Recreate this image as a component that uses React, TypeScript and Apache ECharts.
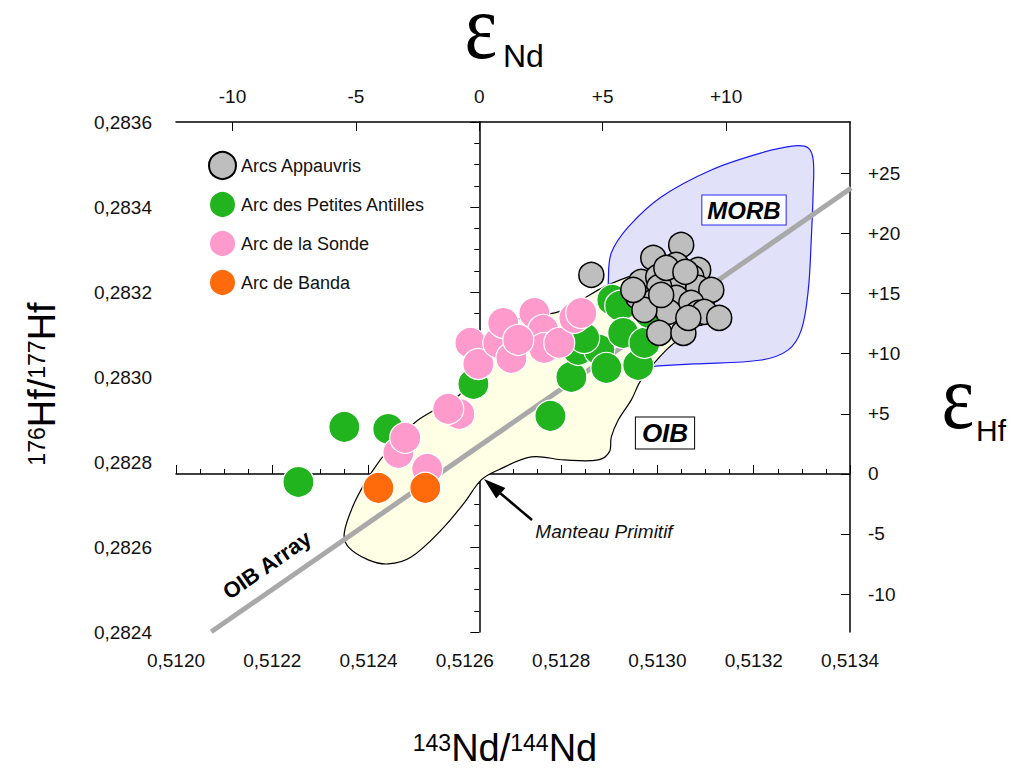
import React, { useEffect, useRef } from "react";
import * as echarts from "echarts";

// Chondritic reference values used by the figure
const CHUR_ND = 0.51263;
const CHUR_HF = 0.282772;

// Axis ranges (ratios)
const ND_MIN = 0.512;
const ND_MAX = 0.5134;
const ND_STEP = 0.0002;
const HF_MIN = 0.2824;
const HF_MAX = 0.2836;
const HF_STEP = 0.0002;

// epsilon tick values
const epsNdTicks = [-10, -5, 0, 5, 10];
const epsHfTicks = [-10, -5, 0, 5, 10, 15, 20, 25];

// Data (read as εNd / εHf values)
const appauvrisEpsNd = [4.54, 8.18, 7.05, 7.98, 8.87, 6.56, 7.25, 7.98, 8.59, 8.87, 9.4, 7.86, 7.29, 6.44, 7.05, 7.98, 8.59, 8.87, 9.12, 7.66, 6.69, 9.72, 7.29, 8.27, 8.47, 7.58, 8.35, 6.24, 7.37];
const appauvrisEpsHf = [16.56, 19.05, 17.97, 17.39, 16.97, 15.97, 16.39, 15.89, 16.39, 15.47, 15.31, 15.72, 15.56, 14.73, 14.31, 14.64, 14.23, 13.39, 13.48, 13.48, 13.64, 12.98, 11.73, 11.73, 12.98, 17.14, 16.81, 15.31, 14.89];

const antillesEpsNd = [-7.33, -5.47, -3.69, -0.24, 2.88, 3.73, 4.01, 4.86, 5.15, 5.39, 5.71, 5.83, 6.44, 6.69, 4.25, 6.89];
const antillesEpsHf = [-0.67, 3.91, 3.74, 7.49, 4.83, 8.07, 10.32, 10.32, 8.82, 14.48, 13.98, 11.73, 9.07, 10.9, 11.31, 13.39];

const sondeEpsNd = [-2.11, -3.28, -3.0, -0.81, -1.26, -0.36, -0.04, 0.77, 0.97, 1.3, 2.23, 2.59, 2.63, 3.24, 3.85, 4.13, 1.58];
const sondeEpsHf = [0.42, 1.75, 3.0, 4.99, 5.41, 10.9, 9.15, 10.9, 12.56, 9.65, 13.39, 11.98, 10.48, 10.9, 12.98, 13.39, 11.15];

const bandaEpsNd = [-4.09, -2.19];
const bandaEpsHf = [-1.16, -1.16];

// Fields outlines (εNd / εHf)
const morbEpsNd = [5.23, 5.35, 6.04, 7.37, 9.4, 11.43, 12.76, 13.33, 13.53, 13.53, 13.45, 13.33, 13.05, 12.52, 11.43, 8.71, 7.25, 5.96, 5.27];
const morbEpsHf = [16.14, 18.39, 20.55, 23.04, 25.29, 26.71, 27.29, 27.12, 26.12, 23.63, 19.47, 15.31, 11.98, 10.32, 9.48, 9.15, 8.99, 8.82, 14.81];

const oibEpsNd = [-5.47, -5.31, -4.5, -3.69, -2.76, -1.54, -0.61, 0.08, 0.77, 2.11, 3.44, 4.82, 5.27, 5.35, 5.63, 6.16, 6.56, 7.58, 8.59, 9.24, 9.6, 9.52, 9.0, 8.18, 6.97, 6.04, 5.06, 4.13, 3.2, 1.5, 0.49, -0.32, -0.81, -1.82, -2.63, -3.69, -4.38, -5.06];
const oibEpsHf = [-4.91, -6.07, -7.15, -7.49, -6.91, -4.66, -2.41, -0.5, 0.33, 1.41, 1.16, 1.16, 1.83, 3.08, 4.49, 6.16, 7.82, 10.32, 11.98, 13.23, 14.73, 15.56, 16.31, 16.81, 16.97, 16.39, 15.56, 14.48, 13.48, 12.81, 10.73, 8.24, 6.57, 5.32, 4.24, 2.0, 0.08, -2.41];

// OIB array line end points
const arrayEpsNd = [-10.86, 15.07];
const arrayEpsHf = [-13.14, 23.79];

const seriesNames = ["Arcs Appauvris", "Arc des Petites Antilles", "Arc de la Sonde", "Arc de Banda"];

const FONT = "'Liberation Sans Narrow', 'Liberation Sans', Arial, sans-serif";

const toNd = (e: number) => CHUR_ND * (1 + e / 1e4);
const toHf = (e: number) => CHUR_HF * (1 + e / 1e4);
const epsNd = (r: number) => (r / CHUR_ND - 1) * 1e4;
const epsHf = (r: number) => (r / CHUR_HF - 1) * 1e4;
const pts = (nd: number[], hf: number[]) => nd.map((e, i) => [toNd(e), toHf(hf[i])]);

const ratioFmt = (v: number) => v.toFixed(4).replace(".", ",");
const epsFmt = (v: number) => (v > 0 ? "+" + v : String(v));

function polygonSeries(name: string, data: number[][], fill: string, stroke: string, z: number) {
  return {
    type: "custom",
    name,
    z,
    silent: true,
    data,
    encode: { x: 0, y: 1 },
    renderItem: (params: any, api: any) => {
      if (params.dataIndex !== 0) return null;
      const points = data.map((p) => api.coord(p));
      return {
        type: "polygon",
        shape: { points, smooth: 0.35 },
        style: { fill, stroke, lineWidth: 1.2 },
      };
    },
  };
}

export default function App() {
  const ref = useRef<HTMLDivElement>(null);
  useEffect(() => {
    if (!ref.current) return;
    const chart = echarts.init(ref.current, null, { renderer: "svg" });
    const axisLine = { show: true, lineStyle: { color: "#000", width: 1.5 } };
    const labelStyle = { fontFamily: FONT, fontSize: 19, color: "#111" };
    const titleRich = {
      m: { fontFamily: FONT, fontSize: 38, lineHeight: 34 },
      s: { fontFamily: FONT, fontSize: 23, verticalAlign: "top" },
    };
    const option: any = {
      animation: false,
      backgroundColor: "#fff",
      grid: { left: 176, top: 122, width: 674, height: 510, containLabel: false },
      legend: {
        orient: "vertical",
        left: 208,
        top: 151,
        padding: 0,
        itemWidth: 27,
        itemHeight: 27,
        itemGap: 10,
        icon: "circle",
        data: seriesNames,
        textStyle: { fontFamily: FONT, fontSize: 18, color: "#111" },
      },
      xAxis: [
        {
          type: "value",
          position: "bottom",
          min: ND_MIN,
          max: ND_MAX,
          interval: ND_STEP,
          axisLine,
          axisTick: { inside: true, length: 9, lineStyle: { color: "#000", width: 1 } },
          minorTick: { show: true, splitNumber: 4, length: 5, lineStyle: { color: "#000", width: 1 } },
          axisLabel: { ...labelStyle, margin: 19, formatter: ratioFmt },
          splitLine: { show: false },
          minorSplitLine: { show: false },
        },
        {
          type: "value",
          position: "top",
          min: epsNd(ND_MIN),
          max: epsNd(ND_MAX),
          axisLine,
          axisTick: { inside: true, length: 9, customValues: epsNdTicks, lineStyle: { color: "#000", width: 1 } },
          axisLabel: { ...labelStyle, margin: 16, customValues: epsNdTicks, formatter: epsFmt },
          splitLine: { show: false },
        },
      ],
      yAxis: [
        {
          type: "value",
          position: "left",
          min: HF_MIN,
          max: HF_MAX,
          interval: HF_STEP,
          axisLine,
          axisTick: { inside: false, length: 9, lineStyle: { color: "#000", width: 1 } },
          minorTick: { show: true, splitNumber: 4, length: 5, lineStyle: { color: "#000", width: 1 } },
          axisLabel: { ...labelStyle, margin: 24, formatter: ratioFmt },
          splitLine: { show: false },
          minorSplitLine: { show: false },
        },
        {
          type: "value",
          position: "right",
          min: epsHf(HF_MIN),
          max: epsHf(HF_MAX),
          axisLine,
          axisTick: { inside: true, length: 9, customValues: epsHfTicks, lineStyle: { color: "#000", width: 1 } },
          axisLabel: { ...labelStyle, margin: 18, customValues: epsHfTicks, formatter: epsFmt },
          splitLine: { show: false },
        },
      ],
      series: [
        polygonSeries("MORB", pts(morbEpsNd, morbEpsHf), "#E1E1F9", "#1a1aF5", 1),
        polygonSeries("OIB", pts(oibEpsNd, oibEpsHf), "#FFFFE6", "#000", 1),
        {
          type: "line",
          name: "OIB Array",
          z: 2,
          silent: true,
          data: pts(arrayEpsNd, arrayEpsHf),
          symbol: "none",
          lineStyle: { color: "#A9A9A9", width: 5 },
          markLine: {
            silent: true,
            symbol: "none",
            label: { show: false },
            lineStyle: { type: [9, 6], color: "#333", width: 1.3 },
            data: [{ xAxis: CHUR_ND }, { yAxis: CHUR_HF }],
          },
        },
        {
          type: "scatter",
          name: seriesNames[1],
          z: 3,
          symbolSize: 31,
          data: pts(antillesEpsNd, antillesEpsHf),
          itemStyle: { color: "#22B41E", borderColor: "#fff", borderWidth: 1.2, opacity: 1 },
        },
        {
          type: "scatter",
          name: seriesNames[2],
          z: 3,
          symbolSize: 31,
          data: pts(sondeEpsNd, sondeEpsHf),
          itemStyle: { color: "#FF9ACC", borderColor: "#fff", borderWidth: 1.2, opacity: 1 },
        },
        {
          type: "scatter",
          name: seriesNames[3],
          z: 3,
          symbolSize: 31,
          data: pts(bandaEpsNd, bandaEpsHf),
          itemStyle: { color: "#FF6A0A", borderColor: "#fff", borderWidth: 1.2, opacity: 1 },
        },
        {
          type: "scatter",
          name: seriesNames[0],
          z: 4,
          symbolSize: 25,
          data: pts(appauvrisEpsNd, appauvrisEpsHf),
          itemStyle: { color: "#BEBEBE", borderColor: "#000", borderWidth: 1.5, opacity: 1 },
        },
      ],
      graphic: [
        {
          type: "text",
          x: 481,
          y: 26,
          scaleY: 1.2,
          style: { text: "ε", fontFamily: "'Liberation Serif', serif", fontSize: 78, lineHeight: 40, fill: "#000", textAlign: "center", textVerticalAlign: "middle" },
        },
        {
          type: "text",
          x: 503,
          y: 56,
          style: { text: "Nd", fontFamily: FONT, fontSize: 32, fill: "#000", textAlign: "left", textVerticalAlign: "middle" },
        },
        {
          type: "text",
          x: 958,
          y: 396,
          scaleY: 1.2,
          style: { text: "ε", fontFamily: "'Liberation Serif', serif", fontSize: 78, lineHeight: 40, fill: "#000", textAlign: "center", textVerticalAlign: "middle" },
        },
        {
          type: "text",
          x: 976,
          y: 430,
          style: { text: "Hf", fontFamily: FONT, fontSize: 30, fill: "#000", textAlign: "left", textVerticalAlign: "middle" },
        },
        {
          type: "group",
          x: 42,
          y: 384,
          rotation: Math.PI / 2,
          children: [
            {
              type: "text",
              style: {
                text: "{s|176}{m|Hf/}{s|177}{m|Hf}",
                textAlign: "center",
                textVerticalAlign: "middle",
                fill: "#000",
                rich: titleRich,
              },
            },
          ],
        },
        {
          type: "text",
          x: 505,
          y: 748,
          style: {
            text: "{s|143}{m|Nd/}{s|144}{m|Nd}",
            textAlign: "center",
            textVerticalAlign: "middle",
            fill: "#000",
            rich: titleRich,
          },
        },
        {
          type: "text",
          x: 744,
          y: 210,
          z: 10,
          style: {
            text: "MORB",
            fontFamily: FONT,
            fontSize: 24,
            fontWeight: "bold",
            fontStyle: "italic",
            fill: "#000",
            textAlign: "center",
            textVerticalAlign: "middle",
            backgroundColor: "#fff",
            borderColor: "#2a2aF0",
            borderWidth: 1,
            padding: [3, 5, 2, 5],
          },
        },
        {
          type: "text",
          x: 665,
          y: 433,
          z: 10,
          style: {
            text: "OIB",
            fontFamily: FONT,
            fontSize: 26,
            fontWeight: "bold",
            fontStyle: "italic",
            fill: "#000",
            textAlign: "center",
            textVerticalAlign: "middle",
            backgroundColor: "#fff",
            borderColor: "#000",
            borderWidth: 1,
            padding: [3, 6, 2, 6],
          },
        },
        {
          type: "text",
          x: 267,
          y: 565,
          rotation: 0.607,
          z: 10,
          style: {
            text: "OIB Array",
            fontFamily: FONT,
            fontSize: 22,
            fontWeight: "bold",
            fill: "#000",
            textAlign: "center",
            textVerticalAlign: "middle",
          },
        },
        {
          type: "text",
          x: 604,
          y: 531,
          z: 10,
          style: {
            text: "Manteau Primitif",
            fontFamily: FONT,
            fontSize: 19,
            fontStyle: "italic",
            fill: "#111",
            textAlign: "center",
            textVerticalAlign: "middle",
          },
        },
        {
          type: "line",
          z: 10,
          shape: { x1: 532, y1: 520, x2: 500, y2: 493 },
          style: { stroke: "#000", lineWidth: 2.5 },
        },
        {
          type: "polygon",
          z: 10,
          shape: { points: [[484, 479], [505.4, 488], [496.2, 498.6]] },
          style: { fill: "#000" },
        },
      ],
    };
    chart.setOption(option);
    return () => chart.dispose();
  }, []);
  return <div ref={ref} style={{ position: "absolute", left: 0, top: 0, width: 1011, height: 769, background: "#fff" }} />;
}
